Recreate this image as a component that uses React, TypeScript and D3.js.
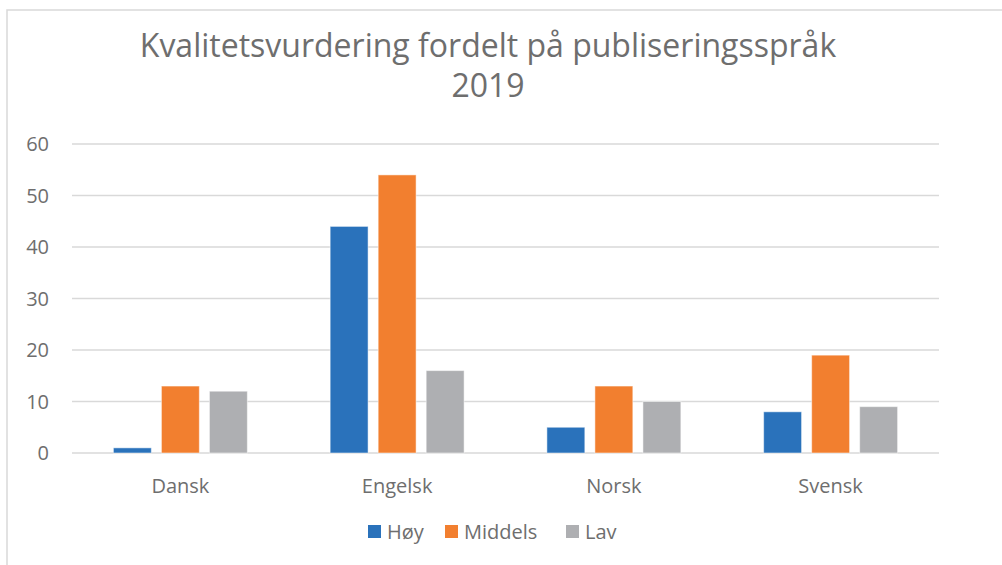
import React from "react";
import * as d3 from "d3";

const width = 1002;
const height = 565;
const margin = { left: 72, right: 63, top: 144, bottom: 112 }; // plot area edges

const categories = ["Dansk", "Engelsk", "Norsk", "Svensk"];
const seriesNames = ["Høy", "Middels", "Lav"];
const hoyValues = [1, 44, 5, 8];
const middelsValues = [13, 54, 13, 19];
const lavValues = [12, 16, 10, 9];
const yTicks = [0, 10, 20, 30, 40, 50, 60];
const colors = ["#2a72bb", "#f27f2f", "#aeafb2"];
const titleLines = ["Kvalitetsvurdering fordelt på publiseringsspråk", "2019"];

const seriesValues = [hoyValues, middelsValues, lavValues];
const font = "'Open Sans', 'Noto Sans', sans-serif";
const textColor = "#6e6e6e";
const labelSize = 20;

const App = () => {
  const x = d3
    .scaleBand<string>()
    .domain(categories)
    .range([margin.left, width - margin.right])
    .paddingInner(0.382)
    .paddingOuter(0.191);
  const xInner = d3
    .scaleBand<string>()
    .domain(seriesNames)
    .range([0, x.bandwidth()])
    .paddingInner(0.21);
  const y = d3
    .scaleLinear()
    .domain([0, 60])
    .range([height - margin.bottom, margin.top]);

  const legendItems = [
    { name: seriesNames[0], x: 368 },
    { name: seriesNames[1], x: 445 },
    { name: seriesNames[2], x: 566 },
  ];

  return (
    <svg
      width={width}
      height={height}
      style={{ position: "absolute", left: 0, top: 0, background: "#fff" }}
      fontFamily={font}
    >
      <rect x={7} y={10} width={1100} height={700} fill="#fff" stroke="#d9d9d9" strokeWidth={1.5} />
      {titleLines.map((t, i) => (
        <text
          key={t}
          x={488}
          y={57 + i * 40}
          textAnchor="middle"
          fontSize={32}
          fill={textColor}
        >
          {t}
        </text>
      ))}
      {yTicks.map((t) => (
        <g key={t}>
          <line
            x1={margin.left}
            x2={width - margin.right}
            y1={y(t)}
            y2={y(t)}
            stroke="#d9d9d9"
            strokeWidth={1.5}
          />
          <text
            x={49}
            y={y(t)}
            dy="0.36em"
            textAnchor="end"
            fontSize={labelSize}
            fill={textColor}
          >
            {t}
          </text>
        </g>
      ))}
      {categories.map((c, ci) => (
        <g key={c} transform={`translate(${x(c)},0)`}>
          {seriesNames.map((s, si) => {
            const v = seriesValues[si][ci];
            return (
              <rect
                key={s}
                x={xInner(s)}
                y={y(v)}
                width={xInner.bandwidth()}
                height={y(0) - y(v)}
                fill={colors[si]}
                stroke="#fff"
                strokeOpacity={0.5}
                strokeWidth={1}
              />
            );
          })}
          <text
            x={x.bandwidth() / 2}
            y={493}
            textAnchor="middle"
            fontSize={labelSize}
            fill={textColor}
          >
            {c}
          </text>
        </g>
      ))}
      {legendItems.map((l, i) => (
        <g key={l.name} transform={`translate(${l.x},525)`}>
          <rect width={13} height={13} fill={colors[i]} />
          <text x={19} y={13.5} fontSize={labelSize} fill={textColor}>
            {l.name}
          </text>
        </g>
      ))}
    </svg>
  );
};

export default App;
